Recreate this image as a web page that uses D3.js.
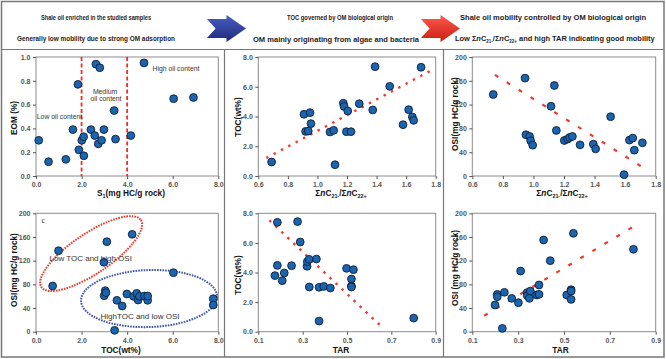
<!DOCTYPE html>
<html><head><meta charset="utf-8">
<script src="https://cdn.jsdelivr.net/npm/d3@7"></script>
<style>body{margin:0;background:#fff}svg{display:block}</style>
</head><body>
<svg id="c" width="666" height="359"></svg>
<script>
// ---------------- DATA ----------------
// Panel a: S1 vs EOM
const s1Values  = [0.12,0.55,1.31,1.62,1.84,1.88,2.01,2.09,2.10,2.41,2.58,2.63,2.73,2.80,2.88,2.98,3.43,3.49,4.16,4.74,6.04,6.91];
const eomValues = [0.30,0.12,0.14,0.39,0.77,0.22,0.30,0.33,0.17,0.39,0.34,0.94,0.27,0.91,0.30,0.39,0.55,0.31,0.34,0.95,0.65,0.66];
const oilThresholds = [2, 4];
// Panel b: ΣnC21-/ΣnC22+ vs TOC
const ratioB = [0.690,0.909,0.920,0.938,0.950,0.956,1.085,1.110,1.119,1.175,1.180,1.196,1.205,1.227,1.283,1.374,1.390,1.489,1.579,1.617,1.642,1.651,1.701];
const tocB   = [0.94,4.15,3.00,3.02,4.26,3.52,2.96,3.07,0.76,4.89,4.68,2.98,4.37,2.98,4.86,4.44,7.35,6.03,3.45,4.46,3.97,3.74,7.31];
const trendB = [[0.654,1.21],[1.78,7.15]];
// Panel c-top: ΣnC21-/ΣnC22+ vs OSI
const ratioC = [0.737,0.945,0.951,0.975,0.982,0.995,1.115,1.137,1.150,1.202,1.224,1.237,1.255,1.305,1.392,1.407,1.505,1.593,1.628,1.650,1.660,1.713];
const osiC   = [137,164.5,69.3,66.5,59.2,51.8,117.2,152.1,76.6,59.7,62,64.8,66.5,52.4,53.5,45.6,99.7,2.3,60.3,63.7,43.4,55.8];
const trendC = [[0.748,170],[1.719,14]];
// Panel d: TOC vs OSI
const tocD = [0.73,0.99,2.98,2.99,3.04,3.07,3.11,3.45,3.55,3.78,3.99,4.22,4.28,4.42,4.48,4.54,4.76,4.90,4.90,6.03,7.78,7.78];
const osiD = [77.2,136.9,117.2,60.8,69.3,65.9,152.1,2.3,53,43.4,63.7,164.5,59.7,64.8,53.5,59.7,60.3,53,60.3,99.7,55.8,45.1];
// Panel e: TAR vs TOC
const tarE = [0.175,0.186,0.186,0.208,0.217,0.250,0.277,0.289,0.320,0.321,0.329,0.330,0.362,0.374,0.374,0.395,0.425,0.498,0.520,0.520,0.520,0.529,0.801];
const tocE = [3.79,7.39,4.48,3.45,3.97,4.46,7.44,6.06,4.42,4.73,4.89,3.02,4.91,3.00,0.72,3.06,2.95,4.28,3.56,3.09,3.02,4.19,0.92];
const trendE = [[0.15,7.53],[0.653,0.38]];
// Panel f: TAR vs OSI
const tarF = [0.199,0.209,0.209,0.231,0.240,0.272,0.301,0.311,0.339,0.340,0.349,0.353,0.381,0.391,0.391,0.411,0.440,0.512,0.531,0.531,0.531,0.541,0.803];
const osiF = [45.1,63.1,59.2,5.6,66.5,56.3,49,102.5,65.9,60.8,56.3,68.7,62,78.9,63.1,154.9,120,62,71,68.7,54.6,166.2,139.2];
const trendF = [[0.152,27],[0.803,177.5]];
// Ticks
const ticksS1 = [0,2,4,6,8];
const ticksEOM = [0,0.2,0.4,0.6,0.8,1.0];
const ticksRatio = [0.6,0.8,1.0,1.2,1.4,1.6,1.8];
const ticksTOC = [0,2,4,6,8];
const ticksOSI = [0,40,80,120,160,200];
const ticksTAR = [0.1,0.3,0.5,0.7,0.9];
// Header texts
const headerLeft = ["Shale oil enriched in the studied samples","Generally low mobility due to strong OM adsorption"];
const headerMid = ["TOC governed by OM biological origin","OM mainly originating from algae and bacteria"];
const headerRight1 = "Shale oil mobility controlled by OM biological origin";

// ---------------- DRAW ----------------
const svg = d3.select("#c");
const FONT = "'Liberation Sans', Arial, sans-serif";
const f1 = d3.format(".1f"), f0 = d3.format("d");

svg.append("rect").attr("x",1.5).attr("y",1.5).attr("width",662.5).attr("height",355.5)
  .attr("fill","none").attr("stroke","#777").attr("stroke-width",1.5);
svg.append("line").attr("x1",1.5).attr("x2",664).attr("y1",49.5).attr("y2",49.5).attr("stroke","#777").attr("stroke-width",1.2);
[224.5,443.5].forEach(xx=>svg.append("line").attr("x1",xx).attr("x2",xx).attr("y1",49.5).attr("y2",357).attr("stroke","#777").attr("stroke-width",1.2));

// rich text helper
function rich(g, x, y, parts, opts){
  const t = g.append("text").attr("x",x).attr("y",y).attr("text-anchor","middle")
    .attr("font-family",opts.family||FONT).attr("font-size",opts.size).attr("font-weight",opts.weight||"normal")
    .attr("fill",opts.fill||"#111");
  if(opts.rotate) t.attr("transform",`rotate(-90,${x},${y})`);
  let shift = 0;
  parts.forEach(p=>{
    const ts = t.append("tspan").text(p.t);
    const target = p.sub ? opts.size*0.3 : 0;
    if(target!==shift){ ts.attr("dy",target-shift); shift=target; }
    if(p.sub) ts.attr("font-size",opts.size*0.65);
    if(p.it) ts.attr("font-style","italic");
  });
  return t;
}
const ratioLabel = [{t:"Σ"},{t:"n",it:true},{t:"C"},{t:"21-",sub:true},{t:"/Σ"},{t:"n",it:true},{t:"C"},{t:"22+",sub:true}];

function panel(c){
  const x = d3.scaleLinear().domain(c.xd).range([c.x0,c.x1]);
  const y = d3.scaleLinear().domain(c.yd).range([c.y1,c.y0]);
  const g = svg.append("g");
  g.append("rect").attr("x",c.x0).attr("y",c.y0).attr("width",c.x1-c.x0).attr("height",c.y1-c.y0)
    .attr("fill","none").attr("stroke","#8c8c8c").attr("stroke-width",1);
  const ax = g.append("g").attr("transform",`translate(0,${c.y1})`)
    .call(d3.axisBottom(x).tickValues(c.xt).tickFormat(c.xf).tickSize(3).tickPadding(3));
  const ay = g.append("g").attr("transform",`translate(${c.x0},0)`)
    .call(d3.axisLeft(y).tickValues(c.yt).tickFormat(c.yf).tickSize(3).tickPadding(2.5));
  [ax,ay].forEach(a=>{
    a.select(".domain").remove();
    a.selectAll("line").attr("stroke","#555");
    a.selectAll("text").attr("font-family",FONT).attr("font-size",7).attr("fill","#555").attr("font-weight","bold");
  });
  rich(g, c.xtx, c.xty, c.xlabel, {size:8.3, weight:"bold"});
  rich(g, c.ytx, c.yty, c.ylabel, {size:8.3, weight:"bold", rotate:true});
  return {x,y,g};
}
function dots(p, xs, ys){
  p.g.append("g").selectAll("circle").data(xs.map((v,i)=>[v,ys[i]])).join("circle")
    .attr("cx",d=>p.x(d[0])).attr("cy",d=>p.y(d[1])).attr("r",3.9)
    .attr("fill","#1c64ae").attr("stroke","#0c1f3a").attr("stroke-width",0.9);
}
function trend(p, tr, dash, w){
  p.g.append("line").attr("x1",p.x(tr[0][0])).attr("y1",p.y(tr[0][1]))
    .attr("x2",p.x(tr[1][0])).attr("y2",p.y(tr[1][1]))
    .attr("stroke","#f0392b").attr("stroke-width",w).attr("stroke-dasharray",dash);
}

// Panel a
const pA = panel({x0:36,x1:218.3,y0:57,y1:176,xd:[0,8],yd:[0,1],xt:ticksS1,yt:ticksEOM,xf:f1,yf:f1,
  xlabel:[{t:"S"},{t:"1",sub:true},{t:"(mg HC/g rock)"}], xtx:131, xty:196,
  ylabel:[{t:"EOM (%)"}], ytx:17, yty:118});
oilThresholds.forEach(v=>pA.g.append("line").attr("x1",pA.x(v)).attr("x2",pA.x(v)).attr("y1",57).attr("y2",176)
  .attr("stroke","#ec3024").attr("stroke-width",1.8).attr("stroke-dasharray","4,2.5"));
dots(pA, s1Values, eomValues);
const annA = [["Low oil content",59.5,118.5],["Medium",105,93.5],["oil content",106,101],["High oil content",176,71]];
annA.forEach(a=>pA.g.append("text").attr("x",a[1]).attr("y",a[2]).attr("text-anchor","middle")
  .attr("font-family",FONT).attr("font-size",6.8).attr("fill","#333").text(a[0]));

// Panel b
const pB = panel({x0:258.3,x1:435.7,y0:57,y1:176,xd:[0.6,1.8],yd:[0,8],xt:ticksRatio,yt:ticksTOC,xf:f1,yf:f1,
  xlabel:ratioLabel, xtx:341, xty:196, ylabel:[{t:"TOC(wt%)"}], ytx:240.5, yty:117});
trend(pB, trendB, "2.4,5.9", 2.4);
dots(pB, ratioB, tocB);

// Panel c-top
const pC = panel({x0:472.3,x1:655.7,y0:57,y1:176,xd:[0.6,1.8],yd:[0,200],xt:ticksRatio,yt:ticksOSI,xf:f1,yf:f0,
  xlabel:ratioLabel, xtx:562, xty:196, ylabel:[{t:"OSI(mg HC/g rock)"}], ytx:457.5, yty:114});
trend(pC, trendC, "4,10", 2.2);
dots(pC, ratioC, osiC);

// Panel d
const pD = panel({x0:36,x1:218.3,y0:213.3,y1:331.7,xd:[0,8],yd:[0,200],xt:ticksTOC,yt:ticksOSI,xf:f1,yf:f0,
  xlabel:[{t:"TOC(wt%)"}], xtx:121, xty:353, ylabel:[{t:"OSI(mg HC/g rock)"}], ytx:17, yty:270});
const ellRed = {cx:2.42, cy:132, rx:60, ry:20, rot:-34};
const ellBlue = {cx:4.96, cy:56, rx:68, ry:28.5, rot:-2};
[[ellRed,"#e8392b"],[ellBlue,"#3d55a8"]].forEach(([e,col])=>{
  pD.g.append("ellipse").attr("cx",0).attr("cy",0).attr("rx",e.rx).attr("ry",e.ry)
   .attr("transform",`translate(${pD.x(e.cx)},${pD.y(e.cy)}) rotate(${e.rot})`)
   .attr("fill","none").attr("stroke",col).attr("stroke-width",2).attr("stroke-dasharray","1.6,1.1");
});
dots(pD, tocD, osiD);
pD.g.append("text").attr("x",41.5).attr("y",223).attr("font-family","'Liberation Serif', serif").attr("font-size",8).attr("fill","#222").text("c");
pD.g.append("text").attr("x",90.7).attr("y",261).attr("text-anchor","middle").attr("font-family",FONT).attr("font-size",8).attr("fill","#333").text("Low TOC and high OSI");
pD.g.append("text").attr("x",140).attr("y",318.5).attr("text-anchor","middle").attr("font-family",FONT).attr("font-size",8).attr("fill","#333").text("HighTOC and low OSI");

// Panel e
const pE = panel({x0:258.3,x1:435.7,y0:213.3,y1:331.7,xd:[0.1,0.9],yd:[0,8],xt:ticksTAR,yt:ticksTOC,xf:f1,yf:f1,
  xlabel:[{t:"TAR"}], xtx:341, xty:353, ylabel:[{t:"TOC(wt%)"}], ytx:240.5, yty:275});
trend(pE, trendE, "2.4,5.9", 2.4);
dots(pE, tarE, tocE);

// Panel f
const pF = panel({x0:472.3,x1:655.7,y0:213.3,y1:331.7,xd:[0.1,0.9],yd:[0,200],xt:ticksTAR,yt:ticksOSI,xf:f1,yf:f0,
  xlabel:[{t:"TAR"}], xtx:560.5, xty:353, ylabel:[{t:"OSI (mg HC/g rock)"}], ytx:457.5, yty:268});
trend(pF, trendF, "4,10", 2.2);
dots(pF, tarF, osiF);

// ---------------- HEADER ----------------
const hg = svg.append("g").attr("font-family",FONT).attr("font-weight","bold").attr("font-size",7.4).attr("fill","#222");
function htext(t, cx, y, w){
  hg.append("text").attr("x",cx-w/2).attr("y",y).attr("textLength",w).attr("lengthAdjust","spacingAndGlyphs").text(t);
}
htext(headerLeft[0], 96, 20, 110);
htext(headerLeft[1], 96, 41, 158);
htext(headerMid[0], 340, 20, 106);
htext(headerMid[1], 336, 42, 166);
htext(headerRight1, 553, 20, 186);
(function(){
  const t = hg.append("text").attr("x",455).attr("y",41);
  t.append("tspan").text("Low Σ");
  t.append("tspan").attr("font-style","italic").text("n");
  t.append("tspan").text("C");
  t.append("tspan").attr("font-size",4.5).attr("dy",2).text("21-");
  t.append("tspan").attr("dy",-2).text("/Σ");
  t.append("tspan").attr("font-style","italic").text("n");
  t.append("tspan").text("C");
  t.append("tspan").attr("font-size",4.5).attr("dy",2).text("22+");
  t.append("tspan").attr("dy",-2).text(" and high TAR indicating good mobility");
  const bb = t.node().getComputedTextLength();
  t.attr("transform",`translate(455,0) scale(${200/bb},1) translate(-455,0)`);
})();
const defs = svg.append("defs");
function grad(id, c1, c2){
  const lg = defs.append("linearGradient").attr("id",id).attr("x1",0).attr("y1",0).attr("x2",0).attr("y2",1);
  lg.append("stop").attr("offset",0).attr("stop-color",c1);
  lg.append("stop").attr("offset",1).attr("stop-color",c2);
}
grad("gb","#4a5fc4","#1e2a7a");
grad("gr","#ff5a4a","#c81e14");
function arrow(x0,y0,w,h,fill){
  const pts = [[0,0.15],[0.5,0.15],[0.5,0],[1,0.5],[0.5,1],[0.5,0.85],[0,0.85],[0.22,0.5]];
  svg.append("polygon").attr("points",pts.map(p=>[x0+p[0]*w,y0+p[1]*h].join(",")).join(" "))
    .attr("fill",fill);
}
arrow(207,15,39,27,"url(#gb)");
arrow(421,15,39,27,"url(#gr)");
</script>
</body></html>
